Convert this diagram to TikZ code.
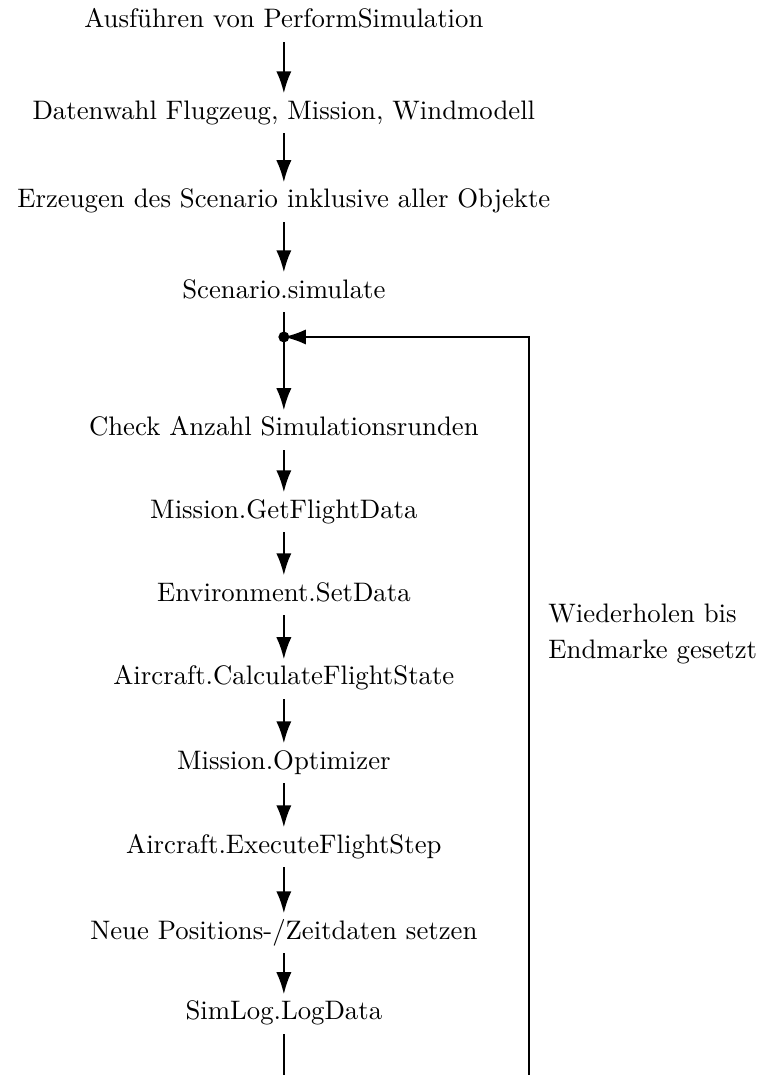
\documentclass[tikz,border=0pt]{standalone}
\usetikzlibrary{arrows.meta}

\begin{document}
\begin{tikzpicture}[
        schritt/.style={anchor=base,inner sep=2.5pt,text height=6.9pt,text depth=2.7pt},
        pfeil/.style={thick,-{Latex[length=2.9mm,width=2mm]}},
        linie/.style={thick}]
        \useasboundingbox (0,0) rectangle (9.96,-14.126);
        \node[schritt] (1) at (3.73,-0.368) {Ausführen von PerformSimulation};
        \node[schritt] (2) at (3.73,-1.564) {Datenwahl Flugzeug, Mission, Windmodell};
        \node[schritt] (3) at (3.73,-2.733) {Erzeugen des Scenario inklusive aller Objekte};
        \node[schritt] (4) at (3.73,-3.916) {Scenario.simulate};
        \node[schritt] (5) at (3.73,-5.729) {Check Anzahl Simulationsrunden};
        \node[schritt] (6) at (3.73,-6.807) {Mission.GetFlightData};
        \node[schritt] (7) at (3.73,-7.898) {Environment.SetData};
        \node[schritt] (8) at (3.73,-9.001) {Aircraft.CalculateFlightState};
        \node[schritt] (9) at (3.73,-10.105) {Mission.Optimizer};
        \node[schritt] (10) at (3.73,-11.209) {Aircraft.ExecuteFlightStep};
        \node[schritt] (11) at (3.73,-12.339) {Neue Positions-/Zeitdaten setzen};
        \node[schritt] (12) at (3.73,-13.403) {SimLog.LogData};
        \node[anchor=west,align=left] (13) at (7.083,-8.33) {Wiederholen bis\\[1.4pt]Endmarke gesetzt};
        \coordinate (d) at (3.73,-4.428);
        \coordinate (u1) at (3.73,-14.126);
        \coordinate (u2) at (6.95,-14.126);
        \draw[pfeil] (1) -- (2);
        \draw[pfeil] (2) -- (3);
        \draw[pfeil] (3) -- (4);
        \draw[linie] (4) -- (d);
        \draw[pfeil] (d) -- (5);
        \draw[pfeil] (5) -- (6);
        \draw[pfeil] (6) -- (7);
        \draw[pfeil] (7) -- (8);
        \draw[pfeil] (8) -- (9);
        \draw[pfeil] (9) -- (10);
        \draw[pfeil] (10) -- (11);
        \draw[pfeil] (11) -- (12);
        \draw[linie] (12) -- (u1);
        \draw[pfeil] (u2) |- (d);
        \fill (d) circle (0.072);
\end{tikzpicture}
\end{document}
